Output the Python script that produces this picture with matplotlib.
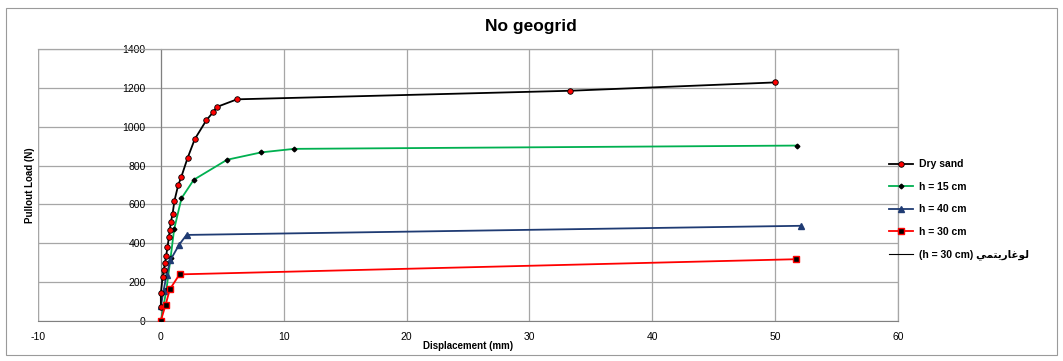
import matplotlib

matplotlib.use("Agg")

import matplotlib.pyplot as plt
from matplotlib.patches import Rectangle

# pullout test readings: displacement (mm) vs pullout load (N)
dry_x = [0.0, 0.0, 0.14, 0.24, 0.33, 0.43, 0.54, 0.65, 0.73, 0.81, 0.95, 1.11, 1.41,
         1.65, 2.17, 2.76, 3.71, 4.25, 4.53, 6.2, 33.3, 50.0]
dry_y = [74, 143, 225, 263, 297, 335, 380, 430, 469, 508, 550, 620, 699,
         739, 838, 936, 1034, 1074, 1101, 1141, 1185, 1228]

h15_x = [0.0, 0.45, 0.79, 1.08, 1.68, 2.68, 5.39, 8.18, 10.84, 51.8]
h15_y = [0, 160, 324, 472, 632, 727, 830, 868, 886, 903]

h40_x = [0.0, 0.22, 0.46, 0.78, 1.48, 2.09, 52.1]
h40_y = [75, 156, 236, 314, 392, 443, 490]

h30_x = [0.0, 0.38, 0.73, 1.52, 51.7]
h30_y = [2, 82, 163, 240, 318]

labels = ["Dry sand", "h = 15 cm", "h = 40 cm", "h = 30 cm"]
# Arabic word in presentation forms, visual order
trend_label = "(h = 30 cm) " + "\ufef2\ufee4\ufe98\ufef3\ufead\ufe8e\ufecf\ufeee\ufedf"

x_ticks = list(range(-10, 61, 10))
y_ticks = list(range(0, 1401, 200))

GRID = "#a6a6a6"

plt.rcParams["font.family"] = ["Liberation Sans", "DejaVu Sans"]
plt.rcParams["axes.unicode_minus"] = False

fig = plt.figure(figsize=(10.63, 3.61), dpi=100)
fig.patches.append(Rectangle((6 / 1063, 6 / 361), 1051 / 1063, 347 / 361,
                             transform=fig.transFigure, fill=False,
                             edgecolor="#9a9a9a", linewidth=0.8))

ax = fig.add_axes([38 / 1063, 40 / 361, 860 / 1063, 272 / 361])

ax.plot(dry_x, dry_y, color="black", lw=1.3, marker="o", ms=4.0,
        mfc="red", mec="black", mew=0.6, label=labels[0], zorder=4)
ax.plot(h15_x, h15_y, color="#00b050", lw=1.3, marker="D", ms=2.4,
        mfc="black", mec="black", label=labels[1], zorder=3)
ax.plot(h40_x, h40_y, color="#1f3b73", lw=1.3, marker="^", ms=4.5,
        mfc="#1f3b73", mec="#1f3b73", label=labels[2], zorder=3)
ax.plot(h30_x, h30_y, color="red", lw=1.3, marker="s", ms=4.0,
        mfc="black", mec="red", mew=1.0, label=labels[3], zorder=5)
ax.plot([], [], color="black", lw=0.8, label=trend_label)

ax.set_xlim(-10, 60)
ax.set_ylim(0, 1400)
ax.set_xticks(x_ticks)
ax.set_yticks(y_ticks)
ax.grid(True, color=GRID, lw=0.9)
ax.set_axisbelow(True)

for side in ["top", "right"]:
    ax.spines[side].set_color(GRID)
    ax.spines[side].set_linewidth(0.9)
ax.spines["bottom"].set_color("#808080")
ax.spines["left"].set_position(("data", 0))
ax.spines["left"].set_color("#808080")
ax.tick_params(length=0, labelsize=7.5)
ax.tick_params(axis="y", pad=11)
ax.tick_params(axis="x", pad=8)

# plot-area border on the left (the y axis itself crosses at x = 0)
ax.axvline(-10, color=GRID, lw=0.9)

ax.set_xlabel("Displacement (mm)", fontsize=7, fontweight="bold", labelpad=-1)
fig.text(30 / 1063, 1 - 185 / 361, "Pullout Load (N)", rotation=90,
         ha="center", va="center", fontsize=7, fontweight="bold")
fig.text(531 / 1063, 1 - 27 / 361, "No geogrid", ha="center", va="center",
         fontsize=12.5, fontweight="bold")

leg = ax.legend(loc="upper left", bbox_to_anchor=(880 / 1063, 1 - 150 / 361),
                bbox_transform=fig.transFigure, frameon=False,
                handlelength=2.3, labelspacing=1.2, handletextpad=0.5,
                prop={"weight": "bold", "size": 7.5,
                      "family": ["Liberation Sans", "DejaVu Sans"]})

fig.savefig("out.png", dpi=100)
